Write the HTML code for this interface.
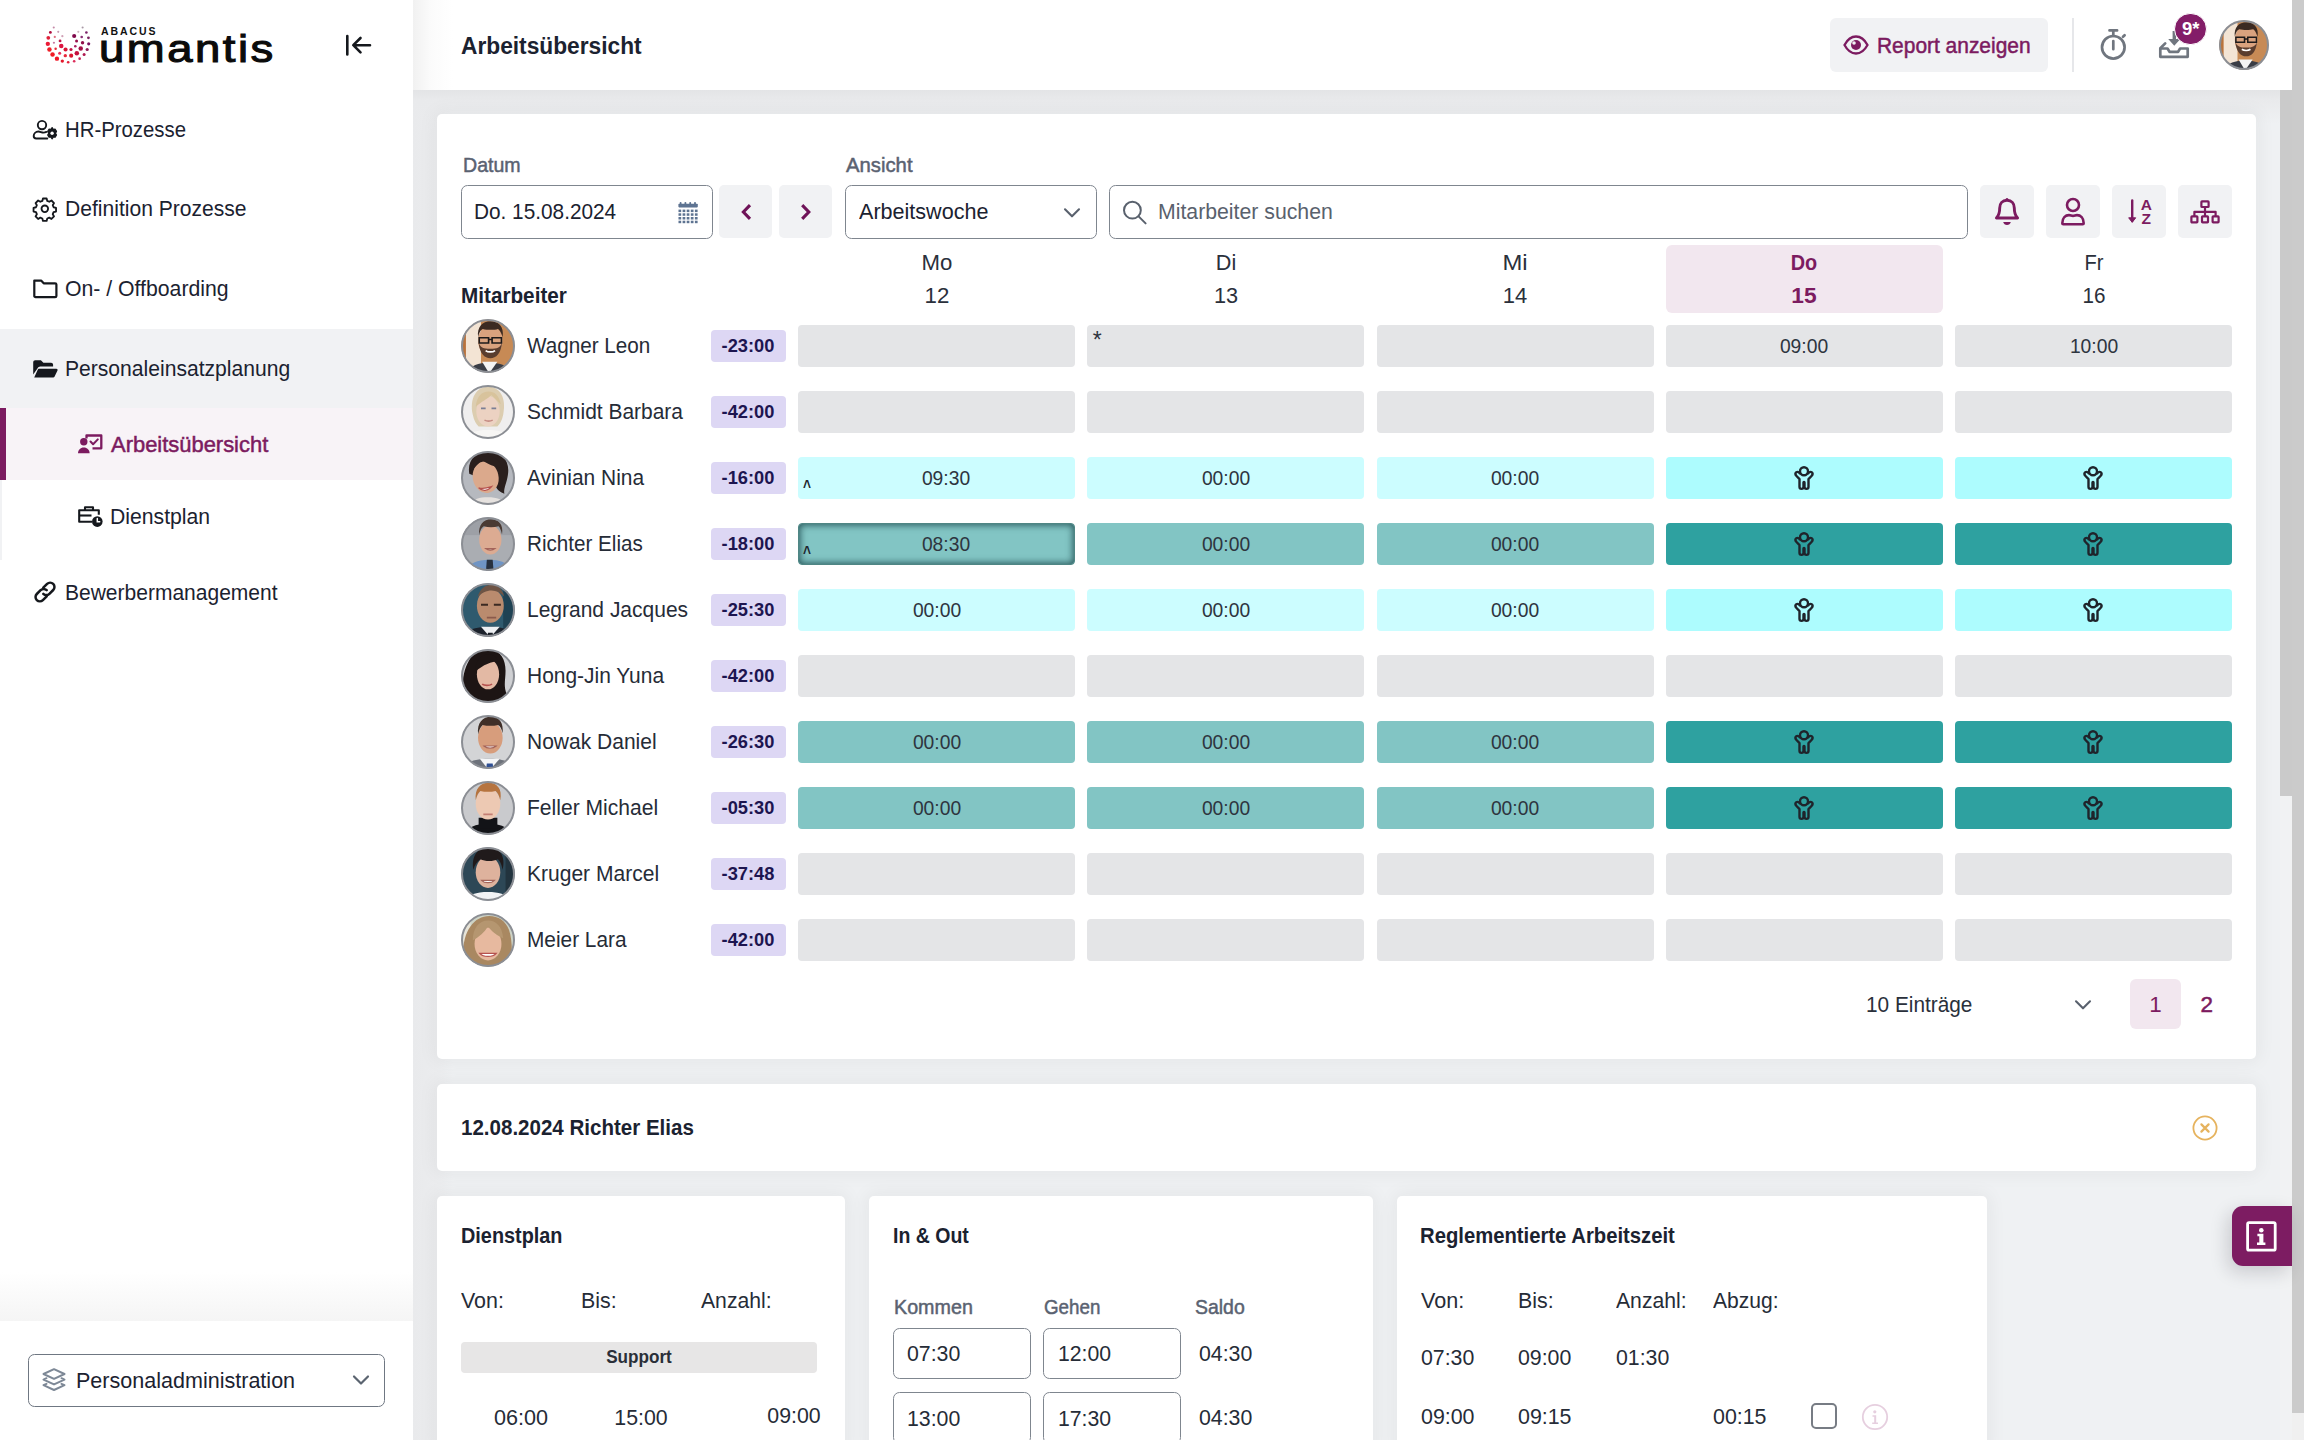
<!DOCTYPE html>
<html lang="de"><head><meta charset="utf-8"><title>Arbeitsübersicht</title>
<style>
html,body{margin:0;padding:0}
body{width:2304px;height:1440px;overflow:hidden;position:relative;background:#eff1f3;
 font-family:"Liberation Sans",sans-serif;color:#1b2230;font-size:20.8px}
.b{position:absolute;box-sizing:border-box;display:block}
.t{position:absolute;white-space:nowrap;box-sizing:border-box}
.card{background:#fff;border-radius:5px}
.inp{background:#fff;border:2px solid #7b828c;border-radius:6.500px}
.gbtn{background:#f1f2f4;border-radius:6px}
</style></head><body>

<div class="b" style="left:413px;top:0;width:1879px;height:90px;background:#fff"></div>
<div class="b" style="left:413px;top:0;width:40px;height:90px;background:linear-gradient(90deg,#f1f1f1,#fbfbfb 45%,#fff)"></div>
<div class="b" style="left:413px;top:90px;width:40px;height:1350px;background:linear-gradient(90deg,#e9eaec,#ebecee 60%,rgba(236,237,239,0))"></div>
<div class="b" style="left:413px;top:90px;width:1879px;height:34px;background:linear-gradient(180deg,#e3e4e6,#e9eaec 30%,rgba(236,237,239,0))"></div>
<div class="t" style="top:25.77px;height:40px;line-height:40px;font-size:23.5px;color:#1b2230;font-weight:700;transform:scaleX(0.9676);transform-origin:left center;left:461px;">Arbeitsübersicht</div>
<div class="b" style="left:1830px;top:18px;width:218px;height:54px;background:#f1f2f4;border-radius:6px;"></div>
<svg class="b" style="left:1843px;top:33px;" width="26" height="24" viewBox="0 0 26 24"><path d="M1.5 12 C5 5.5 9 3.5 13 3.5 S21 5.5 24.5 12 C21 18.5 17 20.5 13 20.5 S5 18.5 1.5 12Z" fill="none" stroke="#7c1b60" stroke-width="2.3"/><circle cx="13" cy="12" r="5" fill="#7c1b60"/><circle cx="11" cy="10" r="1.8" fill="#f1f2f4"/></svg>
<div class="t" style="top:25.76px;height:40px;line-height:40px;font-size:22.4px;color:#7c1b60;-webkit-text-stroke:0.5px #7c1b60;transform:scaleX(0.9346);transform-origin:left center;left:1877.3px;">Report anzeigen</div>
<div class="b" style="left:2072px;top:18px;width:2px;height:54px;background:#e6e7ea;"></div>
<svg class="b" style="left:2098px;top:26px;" width="30" height="36" viewBox="0 0 30 36"><g fill="none" stroke="#70767f" stroke-width="2.7" stroke-linecap="round"><circle cx="15.3" cy="21.3" r="11.3"/><path d="M11.5 4.4h7.6M15.3 4.4v5.5M15.3 15v8.2M25 10.8l1.6-1.6"/></g></svg>
<svg class="b" style="left:2157px;top:28px;" width="36" height="32" viewBox="0 0 36 32"><g fill="none" stroke="#70767f" stroke-width="2.7" stroke-linejoin="round" stroke-linecap="round"><path d="M3.3 20.5h7.2l2 3.3h8.6l2-3.3h7.6v8.3H3.3z"/><path d="M3.6 20l4.6-4.6"/></g><path d="M15.6 3v8h-4.4l6.1 6.8 6.1-6.8h-4.4V3z" fill="#70767f"/></svg>
<div class="b" style="left:2174.4px;top:12.9px;width:32.4px;height:32.4px;border-radius:50%;background:#831d68;border:1px solid #fff"></div>
<div class="t" style="top:9.21px;height:40px;line-height:40px;font-size:18.5px;color:#fff;font-weight:700;left:2160.80px;width:60px;text-align:center;">9*</div>
<div class="b" style="left:0;top:0;width:413px;height:1440px;background:#fff"></div>
<div class="b" style="left:0px;top:329px;width:413px;height:79px;background:#f1f2f4;"></div>
<div class="b" style="left:0px;top:408px;width:413px;height:72px;background:#f8f3f7;"></div>
<div class="b" style="left:0px;top:408px;width:6px;height:72px;background:#7c1b60;"></div>
<div class="b" style="left:0px;top:480px;width:2px;height:80px;background:#f1f2f4;"></div>
<svg class="b" style="left:0px;top:0px;" width="140" height="90" viewBox="0 0 140 90"><circle cx="53.75" cy="27.56" r="1.05" fill="#c58aa8"/><circle cx="50.37" cy="32.44" r="1.42" fill="#b0103f"/><circle cx="48.31" cy="37.87" r="1.87" fill="#e0203a"/><circle cx="47.82" cy="43.87" r="2.17" fill="#ea1a36"/><circle cx="49.44" cy="49.50" r="2.25" fill="#ee2028"/><circle cx="52.55" cy="54.56" r="2.25" fill="#f01a24"/><circle cx="56.94" cy="58.68" r="2.17" fill="#f01525"/><circle cx="62.30" cy="61.12" r="1.69" fill="#e31a2c"/><circle cx="68.18" cy="62.24" r="1.31" fill="#e3203a"/><circle cx="74.18" cy="61.31" r="1.31" fill="#dc2d5a"/><circle cx="79.62" cy="58.68" r="1.31" fill="#c41f55"/><circle cx="84.12" cy="54.56" r="1.50" fill="#b01a50"/><circle cx="87.19" cy="49.50" r="1.57" fill="#8a1a55"/><circle cx="88.69" cy="43.87" r="1.57" fill="#7a1560"/><circle cx="88.43" cy="37.87" r="1.42" fill="#7a2560"/><circle cx="86.37" cy="32.44" r="1.31" fill="#7a2068"/><circle cx="82.62" cy="27.56" r="1.05" fill="#a898a5"/><circle cx="58.25" cy="31.87" r="1.05" fill="#c59ab0"/><circle cx="54.80" cy="36.94" r="1.12" fill="#e07080"/><circle cx="53.94" cy="42.75" r="1.12" fill="#c878a0"/><circle cx="55.62" cy="48.75" r="1.24" fill="#e52a3a"/><circle cx="59.67" cy="53.25" r="1.50" fill="#e8305a"/><circle cx="65.30" cy="55.68" r="1.69" fill="#e8283a"/><circle cx="71.18" cy="55.68" r="2.06" fill="#d81530"/><circle cx="76.81" cy="53.25" r="2.25" fill="#c4103f"/><circle cx="80.74" cy="48.56" r="2.25" fill="#a51045"/><circle cx="82.54" cy="42.75" r="1.69" fill="#900f48"/><circle cx="81.68" cy="36.94" r="1.31" fill="#8a3075"/><circle cx="78.31" cy="31.87" r="1.05" fill="#cdb5bd"/><circle cx="62.37" cy="36.19" r="1.12" fill="#d0a0b5"/><circle cx="60.05" cy="40.95" r="1.42" fill="#c01848"/><circle cx="61.25" cy="46.12" r="2.25" fill="#dc1540"/><circle cx="65.56" cy="49.50" r="2.06" fill="#d81535"/><circle cx="71.00" cy="49.50" r="1.57" fill="#c01545"/><circle cx="75.31" cy="46.31" r="1.31" fill="#a82060"/><circle cx="76.55" cy="40.95" r="1.50" fill="#98104a"/><circle cx="74.18" cy="36.00" r="2.06" fill="#80084a"/></svg>
<div class="t" style="top:11.42px;height:40px;line-height:40px;font-size:10.5px;color:#111;font-weight:700;left:101px;letter-spacing:1.9px;">ABACUS</div>
<div class="t" style="left:99.2px;top:20.2px;height:56px;line-height:56px;font-size:39.5px;color:#0b0b0b;letter-spacing:2.2px;transform:scaleX(1.15);transform-origin:left center;-webkit-text-stroke:1.1px #0b0b0b">umantis</div>
<svg class="b" style="left:343px;top:33px;" width="30" height="24" viewBox="0 0 30 24"><g fill="none" stroke="#15181d" stroke-width="2.6" stroke-linecap="round" stroke-linejoin="round"><path d="M4.3 3v18.5M27 12.2H10.5M17.5 5l-7.2 7.2 7.2 7.2"/></g></svg>
<svg class="b" style="left:31px;top:117px;" width="28" height="25" viewBox="0 0 28 25"><g fill="none" stroke="#15181d" stroke-width="1.9" stroke-linecap="round"><circle cx="11" cy="8.1" r="4.2"/><path d="M16.3 21.5H5.2c-1.6 0-2.5-1-2.5-2.4 0-2.6 2.2-4.6 4.6-4.6 2.2 0 3 1.1 5.2 1.1 1.4 0 2.1-.3 2.9-.7"/></g><path d="M21.1 10.6l1.1 1.7 2-.1 1.3 2.2-1 1.8 1 1.8-1.3 2.2-2-.1-1.1 1.7-1.1-1.7-2 .1-1.3-2.2 1-1.8-1-1.8 1.300-2.2 2 .1z" fill="#15181d" stroke="#15181d" stroke-width="1.2" stroke-linejoin="round"/><circle cx="21.1" cy="16.2" r="1.7" fill="#fff"/></svg>
<div class="t" style="top:110.26px;height:40px;line-height:40px;font-size:22.4px;color:#1b2230;transform:scaleX(0.9090);transform-origin:left center;left:65px;">HR-Prozesse</div>
<svg class="b" style="left:32.2px;top:196.4px;" width="25.6" height="25.6" viewBox="-14 -14 28 28"><g fill="none" stroke="#15181d" stroke-width="2"><circle r="3.6"/><path d="M-2 -11.3h4l.7 2.7 2.2 .9 2.4-1.400 2.800 2.800-1.400 2.400.9 2.200 2.700.7v4l-2.700.7-.9 2.200 1.400 2.400-2.800 2.800-2.400-1.400-2.200.9-.7 2.700h-4l-.7-2.700-2.200-.9-2.400 1.400-2.800-2.800 1.400-2.400-.9-2.200-2.700-.7v-4l2.700-.7.9-2.200-1.400-2.400 2.800-2.800 2.400 1.400 2.200-.9z" stroke-linejoin="round"/></g></svg>
<div class="t" style="top:189.26px;height:40px;line-height:40px;font-size:22.4px;color:#1b2230;transform:scaleX(0.9413);transform-origin:left center;left:65px;">Definition Prozesse</div>
<svg class="b" style="left:31px;top:276px;" width="28" height="24" viewBox="0 0 28 24"><path d="M3.3 4.600h6.800l2.600 2.700h11.400a1.300 1.300 0 0 1 1.300 1.300v11.300a1.300 1.300 0 0 1-1.300 1.300H4.600a1.300 1.300 0 0 1-1.300-1.300z" fill="none" stroke="#15181d" stroke-width="2.2" stroke-linejoin="round"/></svg>
<div class="t" style="top:268.76px;height:40px;line-height:40px;font-size:22.4px;color:#1b2230;transform:scaleX(0.9478);transform-origin:left center;left:65.4px;">On- / Offboarding</div>
<svg class="b" style="left:31px;top:358px;" width="28" height="22" viewBox="0 0 28 22"><path d="M2.200 16.500V4.300c0-1.100.9-2 2-2h5.700l2.500 2.500h7.700c1.100 0 2 .9 2 2v1.700H9.300c-1.200 0-2.200.7-2.700 1.800z" fill="#15181d"/><path d="M8.100 10.800h17.300c.9 0 1.500.9 1.100 1.700l-2.900 6c-.3.700-1 1.100-1.800 1.100H3.200l3.400-7.600c.3-.7.900-1.200 1.500-1.200z" fill="#15181d"/></svg>
<div class="t" style="top:348.76px;height:40px;line-height:40px;font-size:22.4px;color:#1b2230;transform:scaleX(0.9421);transform-origin:left center;left:65px;">Personaleinsatzplanung</div>
<svg class="b" style="left:76px;top:432px;" width="28" height="24" viewBox="0 0 28 24"><circle cx="7.8" cy="9.700" r="3.700" fill="#7c1b60"/><path d="M2 21.300c0-3.300 2.400-5.800 5.800-5.800s5.800 2.500 5.800 5.800z" fill="#7c1b60"/><path d="M10.500 6.500V3.500h14.800v12.800h-8.800" fill="none" stroke="#7c1b60" stroke-width="2.300" stroke-linejoin="round"/><path d="M14.500 9.500l2.600 2.700 4.700-4.800" fill="none" stroke="#7c1b60" stroke-width="2" stroke-linecap="round" stroke-linejoin="round"/></svg>
<div class="t" style="top:424.76px;height:40px;line-height:40px;font-size:22.4px;color:#7c1b60;-webkit-text-stroke:0.5px #7c1b60;transform:scaleX(0.9794);transform-origin:left center;left:111.4px;">Arbeitsübersicht</div>
<svg class="b" style="left:76px;top:504px;" width="28" height="24" viewBox="0 0 28 24"><g fill="none" stroke="#15181d" stroke-width="2.100" stroke-linejoin="round"><path d="M16 17.800H3.200V6.200h19.600v4.600"/><path d="M9 6V3.200h8V6"/><path d="M3.200 11.500h12.300"/></g><circle cx="21.300" cy="17.600" r="5.300" fill="#15181d"/><path d="M21.300 14.600v3.200h2.400" fill="none" stroke="#fff" stroke-width="1.500" stroke-linecap="round"/></svg>
<div class="t" style="top:496.76px;height:40px;line-height:40px;font-size:22.4px;color:#1b2230;transform:scaleX(0.9459);transform-origin:left center;left:110.2px;">Dienstplan</div>
<svg class="b" style="left:31px;top:578px;" width="28" height="28" viewBox="0 0 28 28"><g fill="none" stroke="#15181d" stroke-width="2.500" stroke-linecap="round"><path d="M12.300 9.700l3.800-3.800a4.300 4.300 0 0 1 6.100 6.100l-3.800 3.800a4.300 4.300 0 0 1-6.100 0"/><path d="M15.700 18.300l-3.800 3.800a4.300 4.300 0 0 1-6.100-6.100l3.800-3.800a4.300 4.300 0 0 1 6.100 0"/></g></svg>
<div class="t" style="top:572.76px;height:40px;line-height:40px;font-size:22.4px;color:#1b2230;transform:scaleX(0.9384);transform-origin:left center;left:65px;">Bewerbermanagement</div>
<div class="b" style="left:0;top:1272px;width:413px;height:49px;background:linear-gradient(180deg,rgba(255,255,255,0),#f5f5f5)"></div>
<div class="b" style="left:0;top:1321px;width:413px;height:119px;background:#fff"></div>
<div class="b inp" style="left:28px;top:1354px;width:357px;height:53px;border-width:1.600px;border-color:#6f7782"></div>
<svg class="b" style="left:40px;top:1366px;" width="28" height="28" viewBox="0 0 28 28"><g fill="none" stroke="#7d8896" stroke-width="2" stroke-linejoin="round" stroke-linecap="round"><path d="M14 3.200l10.500 4.800L14 12.800 3.500 8z"/><path d="M6.500 12.200L3.500 13.600 14 18.400l10.500-4.800-3-1.400"/><path d="M6.500 17.800l-3 1.400L14 24l10.500-4.800-3-1.400"/></g></svg>
<div class="t" style="top:1360.76px;height:40px;line-height:40px;font-size:22.4px;color:#1b2230;transform:scaleX(0.9620);transform-origin:left center;left:76px;">Personaladministration</div>
<svg class="b" style="left:351px;top:1373px;" width="20" height="14" viewBox="0 0 20 14"><path d="M3 3.500l7 7 7-7" fill="none" stroke="#5b6470" stroke-width="2.200" stroke-linecap="round" stroke-linejoin="round"/></svg>
<div class="b card" style="left:437px;top:114px;width:1819px;height:945px;box-shadow:0 0 18px 3px rgba(40,42,48,.05);"></div>
<div class="t" style="top:145.44px;height:40px;line-height:40px;font-size:21px;color:#5a6271;-webkit-text-stroke:0.5px #5a6271;transform:scaleX(0.9322);transform-origin:left center;left:462.5px;">Datum</div>
<div class="t" style="top:145.44px;height:40px;line-height:40px;font-size:21px;color:#5a6271;-webkit-text-stroke:0.5px #5a6271;transform:scaleX(0.9658);transform-origin:left center;left:845.5px;">Ansicht</div>
<div class="b inp" style="left:461px;top:184.700px;width:252px;height:53.900px;border:1.7px solid #7f868f;"></div>
<div class="t" style="top:192.26px;height:40px;line-height:40px;font-size:22.4px;color:#1b2230;transform:scaleX(0.9283);transform-origin:left center;left:474.2px;">Do. 15.08.2024</div>
<svg class="b" style="left:677.5px;top:201.5px;" width="20.5" height="22.5" viewBox="0 0 20.5 22.5"><rect x="0.4" y="1.8" width="19.400" height="3.600" rx="0.8" fill="#5d7391"/><rect x="1.7000000000000002" y="0" width="1.800" height="3" rx=".8" fill="#5d7391"/><rect x="6.5" y="0" width="1.800" height="3" rx=".8" fill="#5d7391"/><rect x="11.299999999999999" y="0" width="1.800" height="3" rx=".8" fill="#5d7391"/><rect x="16.1" y="0" width="1.800" height="3" rx=".8" fill="#5d7391"/><rect x="0.50" y="7.60" width="2.700" height="2.500" fill="#5d7391"/><rect x="4.60" y="7.60" width="2.700" height="2.500" fill="#5d7391"/><rect x="8.70" y="7.60" width="2.700" height="2.500" fill="#5d7391"/><rect x="12.80" y="7.60" width="2.700" height="2.500" fill="#5d7391"/><rect x="16.90" y="7.60" width="2.700" height="2.500" fill="#5d7391"/><rect x="0.50" y="11.30" width="2.700" height="2.500" fill="#5d7391"/><rect x="4.60" y="11.30" width="2.700" height="2.500" fill="#5d7391"/><rect x="8.70" y="11.30" width="2.700" height="2.500" fill="#5d7391"/><rect x="12.80" y="11.30" width="2.700" height="2.500" fill="#5d7391"/><rect x="16.90" y="11.30" width="2.700" height="2.500" fill="#5d7391"/><rect x="0.50" y="15.00" width="2.700" height="2.500" fill="#5d7391"/><rect x="4.60" y="15.00" width="2.700" height="2.500" fill="#5d7391"/><rect x="8.70" y="15.00" width="2.700" height="2.500" fill="#5d7391"/><rect x="12.80" y="15.00" width="2.700" height="2.500" fill="#5d7391"/><rect x="16.90" y="15.00" width="2.700" height="2.500" fill="#5d7391"/><rect x="0.50" y="18.70" width="2.700" height="2.500" fill="#5d7391"/><rect x="4.60" y="18.70" width="2.700" height="2.500" fill="#5d7391"/><rect x="8.70" y="18.70" width="2.700" height="2.500" fill="#5d7391"/><rect x="12.80" y="18.70" width="2.700" height="2.500" fill="#5d7391"/><rect x="16.90" y="18.70" width="2.700" height="2.500" fill="#5d7391"/></svg>
<div class="b" style="left:719px;top:185.2px;width:53px;height:53.2px;background:#f1f2f4;border-radius:5px;"></div>
<div class="b" style="left:779px;top:185.2px;width:53px;height:53.2px;background:#f1f2f4;border-radius:5px;"></div>
<svg class="b" style="left:736.7px;top:199px;" width="20" height="26" viewBox="0 0 20 26"><path d="M13 6.200L6.400 13l6.600 6.800" fill="none" stroke="#6f1358" stroke-width="3.100" stroke-linecap="butt" stroke-linejoin="miter"/></svg>
<svg class="b" style="left:795px;top:199px;" width="20" height="26" viewBox="0 0 20 26"><path d="M7.200 6.200l6.600 6.800-6.600 6.800" fill="none" stroke="#6f1358" stroke-width="3.100" stroke-linecap="butt" stroke-linejoin="miter"/></svg>
<div class="b inp" style="left:845px;top:184.700px;width:252px;height:53.900px;border:1.7px solid #7f868f;"></div>
<div class="t" style="top:192.26px;height:40px;line-height:40px;font-size:22.4px;color:#1b2230;transform:scaleX(0.9628);transform-origin:left center;left:858.8px;">Arbeitswoche</div>
<svg class="b" style="left:1061.5px;top:205.8px;" width="20" height="14" viewBox="0 0 20 14"><path d="M3 3.300l7 7 7-7" fill="none" stroke="#59616d" stroke-width="2.100" stroke-linecap="round" stroke-linejoin="round"/></svg>
<div class="b inp" style="left:1109px;top:184.700px;width:859px;height:53.900px;border:1.7px solid #7f868f;"></div>
<svg class="b" style="left:1121px;top:199px;" width="28" height="26" viewBox="0 0 28 26"><g fill="none" stroke="#59616d" stroke-width="2" stroke-linecap="round"><circle cx="11.400" cy="11.200" r="8.400"/><path d="M17.600 17.400l7 7"/></g></svg>
<div class="t" style="top:192.26px;height:40px;line-height:40px;font-size:22.4px;color:#59616d;transform:scaleX(0.9490);transform-origin:left center;left:1157.8px;">Mitarbeiter suchen</div>
<div class="b" style="left:1980px;top:185.2px;width:54px;height:53.2px;background:#f1f2f4;border-radius:5px;"></div>
<div class="b" style="left:2046px;top:185.2px;width:54px;height:53.2px;background:#f1f2f4;border-radius:5px;"></div>
<div class="b" style="left:2112px;top:185.2px;width:54px;height:53.2px;background:#f1f2f4;border-radius:5px;"></div>
<div class="b" style="left:2178px;top:185.2px;width:54px;height:53.2px;background:#f1f2f4;border-radius:5px;"></div>
<svg class="b" style="left:1993px;top:196px;" width="28" height="33" viewBox="0 0 28 33"><g fill="none" stroke="#7c1b60" stroke-width="2.900" stroke-linejoin="round" stroke-linecap="round"><path d="M14 4.300c-4.600 0-7.300 3.300-7.300 7.600 0 5.700-1.500 8.300-3.300 10.100h21.200c-1.800-1.800-3.300-4.400-3.300-10.100 0-4.300-2.700-7.600-7.300-7.600z"/></g><circle cx="14" cy="3.600" r="1.500" fill="#7c1b60"/><path d="M10.200 26h7.600c-.5 1.800-1.900 3-3.800 3s-3.300-1.200-3.800-3z" fill="#7c1b60"/></svg>
<svg class="b" style="left:2059px;top:195px;" width="28" height="33" viewBox="0 0 28 33"><g fill="none" stroke="#7c1b60" stroke-width="2.600" stroke-linejoin="round"><circle cx="14" cy="10" r="6"/><path d="M3.300 28.300c0-5.500 3.300-8.200 6.700-8.200 1.700 0 2.300.8 4 .8s2.300-.8 4-.8c3.400 0 6.700 2.700 6.700 8.200 0 .6-.5 1-1 1H4.300c-.6 0-1-.4-1-1z"/></g></svg>
<svg class="b" style="left:2124px;top:196px;" width="32" height="32" viewBox="0 0 32 32"><path d="M8.200 4.500v20" fill="none" stroke="#7c1b60" stroke-width="2.400" stroke-linecap="round"/><path d="M4.700 21.800l3.500 4.600 3.500-4.600z" fill="#7c1b60" stroke="#7c1b60" stroke-width="1" stroke-linejoin="round"/></svg>
<div class="t" style="top:185.48px;height:40px;line-height:40px;font-size:15.5px;color:#7c1b60;font-weight:700;left:2131.30px;width:30px;text-align:center;">A</div>
<div class="t" style="top:199.18px;height:40px;line-height:40px;font-size:15.5px;color:#7c1b60;font-weight:700;left:2131.30px;width:30px;text-align:center;">Z</div>
<svg class="b" style="left:2189px;top:198px;" width="32" height="28" viewBox="0 0 32 28"><g fill="none" stroke="#7c1b60" stroke-width="2.200" stroke-linejoin="round"><rect x="12.400" y="3.400" width="7.200" height="5.600" rx=".6"/><rect x="2.400" y="18.400" width="6" height="6" rx=".6"/><rect x="13" y="18.400" width="6" height="6" rx=".6"/><rect x="23.600" y="18.400" width="6" height="6" rx=".6"/><path d="M16 9v9.400M5.400 18.400v-4.600h21.200v4.600"/></g></svg>
<div class="b" style="left:1665.9px;top:244.8px;width:277px;height:68.4px;background:#f2e7ef;border-radius:6px;"></div>
<div class="t" style="top:242.66px;height:40px;line-height:40px;font-size:22.4px;color:#2a303b;transform:scaleX(0.9922);transform-origin:center center;left:736.65px;width:400px;text-align:center;">Mo</div>
<div class="t" style="top:276.46px;height:40px;line-height:40px;font-size:22.4px;color:#2a303b;transform:scaleX(0.9946);transform-origin:center center;left:736.65px;width:400px;text-align:center;">12</div>
<div class="t" style="top:242.66px;height:40px;line-height:40px;font-size:22.4px;color:#2a303b;transform:scaleX(0.9653);transform-origin:center center;left:1025.90px;width:400px;text-align:center;">Di</div>
<div class="t" style="top:276.46px;height:40px;line-height:40px;font-size:22.4px;color:#2a303b;transform:scaleX(0.9687);transform-origin:center center;left:1025.90px;width:400px;text-align:center;">13</div>
<div class="t" style="top:242.66px;height:40px;line-height:40px;font-size:22.4px;color:#2a303b;transform:scaleX(1.0655);transform-origin:center center;left:1315.15px;width:400px;text-align:center;">Mi</div>
<div class="t" style="top:276.46px;height:40px;line-height:40px;font-size:22.4px;color:#2a303b;transform:scaleX(0.9816);transform-origin:center center;left:1315.15px;width:400px;text-align:center;">14</div>
<div class="t" style="top:242.66px;height:40px;line-height:40px;font-size:22.4px;color:#7c1b60;font-weight:700;transform:scaleX(0.8872);transform-origin:center center;left:1604.40px;width:400px;text-align:center;">Do</div>
<div class="t" style="top:276.46px;height:40px;line-height:40px;font-size:22.4px;color:#7c1b60;font-weight:700;transform:scaleX(1.0161);transform-origin:center center;left:1604.40px;width:400px;text-align:center;">15</div>
<div class="t" style="top:242.66px;height:40px;line-height:40px;font-size:22.4px;color:#2a303b;transform:scaleX(0.8993);transform-origin:center center;left:1893.65px;width:400px;text-align:center;">Fr</div>
<div class="t" style="top:276.46px;height:40px;line-height:40px;font-size:22.4px;color:#2a303b;transform:scaleX(0.9214);transform-origin:center center;left:1893.65px;width:400px;text-align:center;">16</div>
<div class="t" style="top:276.46px;height:40px;line-height:40px;font-size:22.4px;color:#1b2230;font-weight:700;transform:scaleX(0.9247);transform-origin:left center;left:461px;">Mitarbeiter</div>
<svg class="b" style="left:460.6px;top:319.29999999999995px" width="54" height="54" viewBox="0 0 54 54"><defs><clipPath id="av1"><circle cx="27" cy="27" r="26.500"/></clipPath></defs><g clip-path="url(#av1)"><g transform="translate(27 31) scale(1.17) translate(-27 -31)"><rect width="54" height="54" fill="#c78a55"/><rect x="8" y="0" width="13" height="54" fill="#f3e4d4"/><rect x="0" y="0" width="8" height="54" fill="#b9733c"/><path d="M8 54c2-9 9-12 20-12s18 3 20 12z" fill="#3a3d45"/><path d="M22 41l6 10 7-10z" fill="#f4f4f4"/><ellipse cx="29" cy="23" rx="10.500" ry="13" fill="#d9a27e"/><path d="M18.500 20c-1-9 4-13.500 10.500-13.500s12 4 10.500 13.500c-1-4-3-6.500-4-7-3 1-9 1-13 0-2 1-3 3-4 7z" fill="#3b2a22"/><path d="M19 25c1 9 5 13 10 13s9-4 10-13c-2 4-4 5-10 5s-8-1-10-5z" fill="#5a3d2e"/><path d="M19.500 20.500h8v4.500h-8zM30.500 20.500h8v4.500h-8zM27.500 22h3" fill="none" stroke="#1d1a1a" stroke-width="1.400"/><path d="M25 31.500c2 1.600 6 1.600 8 0" fill="none" stroke="#fff" stroke-width="1.500"/></g></g><circle cx="27" cy="27" r="26.00" fill="none" stroke="#8b8e94" stroke-width="2.00"/></svg>
<div class="t" style="top:326.26px;height:40px;line-height:40px;font-size:22.4px;color:#262c37;transform:scaleX(0.9232);transform-origin:left center;left:527.2px;">Wagner Leon</div>
<div class="b" style="left:710.6px;top:330.29999999999995px;width:75.2px;height:32px;background:#ddd7f4;border-radius:4px;"></div>
<div class="t" style="top:326.30px;height:40px;line-height:40px;font-size:17.6px;color:#1d1550;font-weight:700;transform:scaleX(1.0376);transform-origin:center center;left:698.40px;width:100px;text-align:center;">-23:00</div>
<div class="b" style="left:798.2px;top:325.4px;width:276.9px;height:41.8px;background:#e4e5e7;border-radius:4px;"></div>
<div class="b" style="left:1087.45px;top:325.4px;width:276.9px;height:41.8px;background:#e4e5e7;border-radius:4px;"></div>
<div class="t" style="top:319.96px;height:40px;line-height:40px;font-size:23px;color:#2e353f;left:1092.75px;">*</div>
<div class="b" style="left:1376.7px;top:325.4px;width:276.9px;height:41.8px;background:#e4e5e7;border-radius:4px;"></div>
<div class="b" style="left:1665.95px;top:325.4px;width:276.9px;height:41.8px;background:#e4e5e7;border-radius:4px;"></div>
<div class="t" style="top:325.83px;height:40px;line-height:40px;font-size:20px;color:#2e353f;transform:scaleX(0.9637);transform-origin:center center;left:1604.40px;width:400px;text-align:center;">09:00</div>
<div class="b" style="left:1955.2px;top:325.4px;width:276.9px;height:41.8px;background:#e4e5e7;border-radius:4px;"></div>
<div class="t" style="top:325.83px;height:40px;line-height:40px;font-size:20px;color:#2e353f;transform:scaleX(0.9637);transform-origin:center center;left:1893.65px;width:400px;text-align:center;">10:00</div>
<svg class="b" style="left:460.6px;top:385.29999999999995px" width="54" height="54" viewBox="0 0 54 54"><defs><clipPath id="av2"><circle cx="27" cy="27" r="26.500"/></clipPath></defs><g clip-path="url(#av2)"><g transform="translate(27 31) scale(1.17) translate(-27 -31)"><rect width="54" height="54" fill="#efeeee"/><path d="M6 54c2-8 9-11 21-11s19 3 21 11z" fill="#f7f6f4"/><path d="M14 30c-3-14 3-24 13-24s16 9 13 24c-1 5-3 8-5 10H19c-2-2-4-5-5-10z" fill="#dccdb0"/><ellipse cx="27" cy="27" rx="10" ry="13" fill="#ecd2c2"/><path d="M16.500 23c1-9 5-13 11-13 5 0 9 3 10.500 11-3-3-6-6-8-8-3 3-9 6-13.500 10z" fill="#d8c39c"/><path d="M21 24.500h4M30 24.500h4" stroke="#7c7f95" stroke-width="1.500"/><path d="M24 34.500c2 1 5 1 7 0" fill="none" stroke="#c58b83" stroke-width="1.300"/></g></g><circle cx="27" cy="27" r="26.00" fill="none" stroke="#8b8e94" stroke-width="2.00"/></svg>
<div class="t" style="top:392.26px;height:40px;line-height:40px;font-size:22.4px;color:#262c37;transform:scaleX(0.9353);transform-origin:left center;left:527.2px;">Schmidt Barbara</div>
<div class="b" style="left:710.6px;top:396.29999999999995px;width:75.2px;height:32px;background:#ddd7f4;border-radius:4px;"></div>
<div class="t" style="top:392.30px;height:40px;line-height:40px;font-size:17.6px;color:#1d1550;font-weight:700;transform:scaleX(1.0376);transform-origin:center center;left:698.40px;width:100px;text-align:center;">-42:00</div>
<div class="b" style="left:798.2px;top:391.4px;width:276.9px;height:41.8px;background:#e4e5e7;border-radius:4px;"></div>
<div class="b" style="left:1087.45px;top:391.4px;width:276.9px;height:41.8px;background:#e4e5e7;border-radius:4px;"></div>
<div class="b" style="left:1376.7px;top:391.4px;width:276.9px;height:41.8px;background:#e4e5e7;border-radius:4px;"></div>
<div class="b" style="left:1665.95px;top:391.4px;width:276.9px;height:41.8px;background:#e4e5e7;border-radius:4px;"></div>
<div class="b" style="left:1955.2px;top:391.4px;width:276.9px;height:41.8px;background:#e4e5e7;border-radius:4px;"></div>
<svg class="b" style="left:460.6px;top:451.29999999999995px" width="54" height="54" viewBox="0 0 54 54"><defs><clipPath id="av3"><circle cx="27" cy="27" r="26.500"/></clipPath></defs><g clip-path="url(#av3)"><g transform="translate(27 31) scale(1.17) translate(-27 -31)"><rect width="54" height="54" fill="#b6b9bf"/><path d="M10 54c3-8 8-10 17-10s15 3 18 10z" fill="#e6e2df"/><path d="M11 24c-2-12 6-19 16-19 12 0 19 8 17 20-1 7-4 12-3 16-4-1-7-4-8-8z" fill="#2a1f1d"/><ellipse cx="25" cy="27" rx="11" ry="13.500" fill="#dba98c" transform="rotate(-12 25 27)"/><path d="M12 22c1-9 8-14 16-13 6 1 10 5 11 10-6-1-13-3-17-7-3 3-6 6-10 10z" fill="#2a1f1d"/><path d="M19 36c3 3 8 3 11-1-3 1-8 2-11 1z" fill="#fff" stroke="#b5524f" stroke-width="1.200"/></g></g><circle cx="27" cy="27" r="26.00" fill="none" stroke="#8b8e94" stroke-width="2.00"/></svg>
<div class="t" style="top:458.26px;height:40px;line-height:40px;font-size:22.4px;color:#262c37;transform:scaleX(0.9342);transform-origin:left center;left:527.2px;">Avinian Nina</div>
<div class="b" style="left:710.6px;top:462.29999999999995px;width:75.2px;height:32px;background:#ddd7f4;border-radius:4px;"></div>
<div class="t" style="top:458.30px;height:40px;line-height:40px;font-size:17.6px;color:#1d1550;font-weight:700;transform:scaleX(1.0376);transform-origin:center center;left:698.40px;width:100px;text-align:center;">-16:00</div>
<div class="b" style="left:798.2px;top:457.4px;width:276.9px;height:41.8px;background:#ccfdff;border-radius:4px;"></div>
<div class="t" style="top:467.12px;height:40px;line-height:40px;font-size:19px;color:#20262e;font-weight:700;left:803.4000000000001px;transform:scaleX(.72);transform-origin:left center;">^</div>
<div class="t" style="top:457.83px;height:40px;line-height:40px;font-size:20px;color:#2e353f;transform:scaleX(0.9637);transform-origin:center center;left:746.25px;width:400px;text-align:center;">09:30</div>
<div class="b" style="left:1087.45px;top:457.4px;width:276.9px;height:41.8px;background:#ccfdff;border-radius:4px;"></div>
<div class="t" style="top:457.83px;height:40px;line-height:40px;font-size:20px;color:#2e353f;transform:scaleX(0.9637);transform-origin:center center;left:1025.90px;width:400px;text-align:center;">00:00</div>
<div class="b" style="left:1376.7px;top:457.4px;width:276.9px;height:41.8px;background:#ccfdff;border-radius:4px;"></div>
<div class="t" style="top:457.83px;height:40px;line-height:40px;font-size:20px;color:#2e353f;transform:scaleX(0.9637);transform-origin:center center;left:1315.15px;width:400px;text-align:center;">00:00</div>
<div class="b" style="left:1665.95px;top:457.4px;width:276.9px;height:41.8px;background:#adfcfe;border-radius:4px;"></div>
<svg class="b" style="left:1794.1000000000001px;top:465.19999999999993px;" width="20" height="26" viewBox="0 0 20 26"><g fill="none" stroke="#1f242b" stroke-width="2.400" stroke-linejoin="round" stroke-linecap="round"><circle cx="10" cy="6.300" r="4"/><path d="M5.700 8.200C4.400 6.400 2.300 6.500 1.600 8c-.5 1.100 0 2.100.9 3l3 3.100v7.700c0 1.300.8 2.100 2 2.100s2-.8 2-2.100v-4.300c0-.4.200-.6.500-.6s.5.200.5.600v4.300c0 1.300.8 2.100 2 2.100s2-.8 2-2.100v-7.700l3-3.100c.9-.9 1.400-1.900.9-3-.7-1.500-2.800-1.600-4.100.2"/></g></svg>
<div class="b" style="left:1955.2px;top:457.4px;width:276.9px;height:41.8px;background:#adfcfe;border-radius:4px;"></div>
<svg class="b" style="left:2083.35px;top:465.19999999999993px;" width="20" height="26" viewBox="0 0 20 26"><g fill="none" stroke="#1f242b" stroke-width="2.400" stroke-linejoin="round" stroke-linecap="round"><circle cx="10" cy="6.300" r="4"/><path d="M5.700 8.200C4.400 6.400 2.300 6.500 1.600 8c-.5 1.100 0 2.100.9 3l3 3.100v7.700c0 1.300.8 2.100 2 2.100s2-.8 2-2.100v-4.300c0-.4.200-.6.500-.6s.5.200.5.600v4.300c0 1.300.8 2.100 2 2.100s2-.8 2-2.100v-7.700l3-3.100c.9-.9 1.400-1.900.9-3-.7-1.500-2.800-1.600-4.100.2"/></g></svg>
<svg class="b" style="left:460.6px;top:517.3px" width="54" height="54" viewBox="0 0 54 54"><defs><clipPath id="av4"><circle cx="27" cy="27" r="26.500"/></clipPath></defs><g clip-path="url(#av4)"><g transform="translate(27 31) scale(1.17) translate(-27 -31)"><rect width="54" height="54" fill="#aaadb2"/><rect y="0" width="54" height="20" fill="#9da0a6"/><path d="M7 54c2-9 9-13 21-13s18 4 20 13z" fill="#6f94c4"/><path d="M26 41h5l1 13h-7z" fill="#27303e"/><ellipse cx="29" cy="24" rx="9.500" ry="12.500" fill="#dcab92"/><path d="M19.500 20c-1-9 4-13.500 10-13.500s11 4 9.500 13c-1-4-2-6-3-7-4 1-9 1-12.500 0-2 1-3 3-4 7.500z" fill="#4a3a33"/><path d="M25 31.500c2 1.700 6 1.700 8 0z" fill="#fff" stroke="#a4645a" stroke-width="1"/></g></g><circle cx="27" cy="27" r="26.00" fill="none" stroke="#8b8e94" stroke-width="2.00"/></svg>
<div class="t" style="top:524.26px;height:40px;line-height:40px;font-size:22.4px;color:#262c37;transform:scaleX(0.9217);transform-origin:left center;left:527.2px;">Richter Elias</div>
<div class="b" style="left:710.6px;top:528.3px;width:75.2px;height:32px;background:#ddd7f4;border-radius:4px;"></div>
<div class="t" style="top:524.30px;height:40px;line-height:40px;font-size:17.6px;color:#1d1550;font-weight:700;transform:scaleX(1.0376);transform-origin:center center;left:698.40px;width:100px;text-align:center;">-18:00</div>
<div class="b" style="left:798.2px;top:523.4px;width:276.9px;height:41.8px;background:#82c5c4;border-radius:4px;box-shadow:inset 0 0 7px 1px rgba(10,50,55,.75);border:1px solid #4f8684;"></div>
<div class="t" style="top:533.12px;height:40px;line-height:40px;font-size:19px;color:#20262e;font-weight:700;left:803.4000000000001px;transform:scaleX(.72);transform-origin:left center;">^</div>
<div class="t" style="top:523.83px;height:40px;line-height:40px;font-size:20px;color:#2e353f;transform:scaleX(0.9637);transform-origin:center center;left:746.25px;width:400px;text-align:center;">08:30</div>
<div class="b" style="left:1087.45px;top:523.4px;width:276.9px;height:41.8px;background:#82c5c4;border-radius:4px;"></div>
<div class="t" style="top:523.83px;height:40px;line-height:40px;font-size:20px;color:#2e353f;transform:scaleX(0.9637);transform-origin:center center;left:1025.90px;width:400px;text-align:center;">00:00</div>
<div class="b" style="left:1376.7px;top:523.4px;width:276.9px;height:41.8px;background:#82c5c4;border-radius:4px;"></div>
<div class="t" style="top:523.83px;height:40px;line-height:40px;font-size:20px;color:#2e353f;transform:scaleX(0.9637);transform-origin:center center;left:1315.15px;width:400px;text-align:center;">00:00</div>
<div class="b" style="left:1665.95px;top:523.4px;width:276.9px;height:41.8px;background:#2ea1a0;border-radius:4px;"></div>
<svg class="b" style="left:1794.1000000000001px;top:531.1999999999999px;" width="20" height="26" viewBox="0 0 20 26"><g fill="none" stroke="#1f242b" stroke-width="2.400" stroke-linejoin="round" stroke-linecap="round"><circle cx="10" cy="6.300" r="4"/><path d="M5.700 8.200C4.400 6.400 2.300 6.500 1.600 8c-.5 1.100 0 2.100.9 3l3 3.100v7.700c0 1.300.8 2.100 2 2.100s2-.8 2-2.100v-4.300c0-.4.200-.6.500-.6s.5.200.5.600v4.300c0 1.300.8 2.100 2 2.100s2-.8 2-2.100v-7.700l3-3.100c.9-.9 1.400-1.900.9-3-.7-1.500-2.800-1.600-4.100.2"/></g></svg>
<div class="b" style="left:1955.2px;top:523.4px;width:276.9px;height:41.8px;background:#2ea1a0;border-radius:4px;"></div>
<svg class="b" style="left:2083.35px;top:531.1999999999999px;" width="20" height="26" viewBox="0 0 20 26"><g fill="none" stroke="#1f242b" stroke-width="2.400" stroke-linejoin="round" stroke-linecap="round"><circle cx="10" cy="6.300" r="4"/><path d="M5.700 8.200C4.400 6.400 2.300 6.500 1.600 8c-.5 1.100 0 2.100.9 3l3 3.100v7.700c0 1.300.8 2.100 2 2.100s2-.8 2-2.100v-4.300c0-.4.200-.6.500-.6s.5.200.5.600v4.300c0 1.300.8 2.100 2 2.100s2-.8 2-2.100v-7.700l3-3.100c.9-.9 1.400-1.900.9-3-.7-1.500-2.800-1.600-4.100.2"/></g></svg>
<svg class="b" style="left:460.6px;top:583.3px" width="54" height="54" viewBox="0 0 54 54"><defs><clipPath id="av5"><circle cx="27" cy="27" r="26.500"/></clipPath></defs><g clip-path="url(#av5)"><g transform="translate(27 31) scale(1.17) translate(-27 -31)"><rect width="54" height="54" fill="#2f5a6e"/><rect x="40" width="14" height="54" fill="#1f4253"/><path d="M4 54c2-8 9-12 24-12s20 4 22 12z" fill="#1c222c"/><path d="M21 42l8 9 8-9z" fill="#eef0f3"/><path d="M27 47h4l1 7h-6z" fill="#151a22"/><ellipse cx="29" cy="24" rx="11.500" ry="14.500" fill="#ba8b6e"/><path d="M18 17c2-8 7-11 12-11s9 3 11 10c-3-3-7-5-11-5s-9 2-12 6z" fill="#6e5445"/><path d="M21 23h6M32 23h6" stroke="#3b2a22" stroke-width="1.700"/><path d="M26 34h8" stroke="#8a5a4b" stroke-width="1.500"/></g></g><circle cx="27" cy="27" r="26.00" fill="none" stroke="#8b8e94" stroke-width="2.00"/></svg>
<div class="t" style="top:590.26px;height:40px;line-height:40px;font-size:22.4px;color:#262c37;transform:scaleX(0.9376);transform-origin:left center;left:527.2px;">Legrand Jacques</div>
<div class="b" style="left:710.6px;top:594.3px;width:75.2px;height:32px;background:#ddd7f4;border-radius:4px;"></div>
<div class="t" style="top:590.30px;height:40px;line-height:40px;font-size:17.6px;color:#1d1550;font-weight:700;transform:scaleX(1.0376);transform-origin:center center;left:698.40px;width:100px;text-align:center;">-25:30</div>
<div class="b" style="left:798.2px;top:589.4px;width:276.9px;height:41.8px;background:#ccfdff;border-radius:4px;"></div>
<div class="t" style="top:589.83px;height:40px;line-height:40px;font-size:20px;color:#2e353f;transform:scaleX(0.9637);transform-origin:center center;left:736.65px;width:400px;text-align:center;">00:00</div>
<div class="b" style="left:1087.45px;top:589.4px;width:276.9px;height:41.8px;background:#ccfdff;border-radius:4px;"></div>
<div class="t" style="top:589.83px;height:40px;line-height:40px;font-size:20px;color:#2e353f;transform:scaleX(0.9637);transform-origin:center center;left:1025.90px;width:400px;text-align:center;">00:00</div>
<div class="b" style="left:1376.7px;top:589.4px;width:276.9px;height:41.8px;background:#ccfdff;border-radius:4px;"></div>
<div class="t" style="top:589.83px;height:40px;line-height:40px;font-size:20px;color:#2e353f;transform:scaleX(0.9637);transform-origin:center center;left:1315.15px;width:400px;text-align:center;">00:00</div>
<div class="b" style="left:1665.95px;top:589.4px;width:276.9px;height:41.8px;background:#adfcfe;border-radius:4px;"></div>
<svg class="b" style="left:1794.1000000000001px;top:597.1999999999999px;" width="20" height="26" viewBox="0 0 20 26"><g fill="none" stroke="#1f242b" stroke-width="2.400" stroke-linejoin="round" stroke-linecap="round"><circle cx="10" cy="6.300" r="4"/><path d="M5.700 8.200C4.400 6.400 2.300 6.500 1.600 8c-.5 1.100 0 2.100.9 3l3 3.100v7.700c0 1.300.8 2.100 2 2.100s2-.8 2-2.100v-4.300c0-.4.200-.6.500-.6s.5.200.5.600v4.300c0 1.300.8 2.100 2 2.100s2-.8 2-2.100v-7.700l3-3.100c.9-.9 1.400-1.900.9-3-.7-1.500-2.800-1.600-4.100.2"/></g></svg>
<div class="b" style="left:1955.2px;top:589.4px;width:276.9px;height:41.8px;background:#adfcfe;border-radius:4px;"></div>
<svg class="b" style="left:2083.35px;top:597.1999999999999px;" width="20" height="26" viewBox="0 0 20 26"><g fill="none" stroke="#1f242b" stroke-width="2.400" stroke-linejoin="round" stroke-linecap="round"><circle cx="10" cy="6.300" r="4"/><path d="M5.700 8.200C4.400 6.400 2.300 6.500 1.600 8c-.5 1.100 0 2.100.9 3l3 3.100v7.700c0 1.300.8 2.100 2 2.100s2-.8 2-2.100v-4.300c0-.4.200-.6.500-.6s.5.200.5.600v4.300c0 1.300.8 2.100 2 2.100s2-.8 2-2.100v-7.700l3-3.100c.9-.9 1.400-1.900.9-3-.7-1.500-2.800-1.600-4.100.2"/></g></svg>
<svg class="b" style="left:460.6px;top:649.3px" width="54" height="54" viewBox="0 0 54 54"><defs><clipPath id="av6"><circle cx="27" cy="27" r="26.500"/></clipPath></defs><g clip-path="url(#av6)"><g transform="translate(27 31) scale(1.17) translate(-27 -31)"><rect width="54" height="54" fill="#cfd0d3"/><path d="M38 54h16V36z" fill="#4d5a57"/><path d="M6 54c-2-16-1-30 5-40 4-7 11-10 18-9 9 1 13 9 13 18 0 8-2 13 1 20 2 5 3 8 3 11z" fill="#1d1514"/><ellipse cx="27" cy="26" rx="9.500" ry="13" fill="#e3b9a4"/><path d="M16 24c0-9 5-15 12-15 3 0 6 2 8 6-6 0-13 3-20 9z" fill="#1d1514"/><path d="M22 34.500c2 1.500 6 1.500 8.500 0" fill="none" stroke="#b5524f" stroke-width="1.400"/></g></g><circle cx="27" cy="27" r="26.00" fill="none" stroke="#8b8e94" stroke-width="2.00"/></svg>
<div class="t" style="top:656.26px;height:40px;line-height:40px;font-size:22.4px;color:#262c37;transform:scaleX(0.9357);transform-origin:left center;left:527.2px;">Hong-Jin Yuna</div>
<div class="b" style="left:710.6px;top:660.3px;width:75.2px;height:32px;background:#ddd7f4;border-radius:4px;"></div>
<div class="t" style="top:656.30px;height:40px;line-height:40px;font-size:17.6px;color:#1d1550;font-weight:700;transform:scaleX(1.0376);transform-origin:center center;left:698.40px;width:100px;text-align:center;">-42:00</div>
<div class="b" style="left:798.2px;top:655.4px;width:276.9px;height:41.8px;background:#e4e5e7;border-radius:4px;"></div>
<div class="b" style="left:1087.45px;top:655.4px;width:276.9px;height:41.8px;background:#e4e5e7;border-radius:4px;"></div>
<div class="b" style="left:1376.7px;top:655.4px;width:276.9px;height:41.8px;background:#e4e5e7;border-radius:4px;"></div>
<div class="b" style="left:1665.95px;top:655.4px;width:276.9px;height:41.8px;background:#e4e5e7;border-radius:4px;"></div>
<div class="b" style="left:1955.2px;top:655.4px;width:276.9px;height:41.8px;background:#e4e5e7;border-radius:4px;"></div>
<svg class="b" style="left:460.6px;top:715.3px" width="54" height="54" viewBox="0 0 54 54"><defs><clipPath id="av7"><circle cx="27" cy="27" r="26.500"/></clipPath></defs><g clip-path="url(#av7)"><g transform="translate(27 31) scale(1.17) translate(-27 -31)"><rect width="54" height="54" fill="#d3d4d6"/><path d="M5 54c2-9 9-12 23-12s20 3 22 12z" fill="#6d727b"/><path d="M20 42l8 10 9-10z" fill="#f5f6f8"/><path d="M26 46h5l1 8h-7z" fill="#2f4f93"/><ellipse cx="29" cy="24" rx="10.500" ry="13.500" fill="#d79d7c"/><path d="M18.500 21c-1-10 4-15 11-15s11 5 10 14c-1-4-2-6-4-7-4 1-9 1-13 0-2 2-3 4-4 8z" fill="#3f2f28"/><path d="M23.500 31c2.500 2.500 8 2.500 10.500 0z" fill="#fff" stroke="#a4645a" stroke-width="1"/></g></g><circle cx="27" cy="27" r="26.00" fill="none" stroke="#8b8e94" stroke-width="2.00"/></svg>
<div class="t" style="top:722.26px;height:40px;line-height:40px;font-size:22.4px;color:#262c37;transform:scaleX(0.9380);transform-origin:left center;left:527.2px;">Nowak Daniel</div>
<div class="b" style="left:710.6px;top:726.3px;width:75.2px;height:32px;background:#ddd7f4;border-radius:4px;"></div>
<div class="t" style="top:722.30px;height:40px;line-height:40px;font-size:17.6px;color:#1d1550;font-weight:700;transform:scaleX(1.0376);transform-origin:center center;left:698.40px;width:100px;text-align:center;">-26:30</div>
<div class="b" style="left:798.2px;top:721.4px;width:276.9px;height:41.8px;background:#82c5c4;border-radius:4px;"></div>
<div class="t" style="top:721.83px;height:40px;line-height:40px;font-size:20px;color:#2e353f;transform:scaleX(0.9637);transform-origin:center center;left:736.65px;width:400px;text-align:center;">00:00</div>
<div class="b" style="left:1087.45px;top:721.4px;width:276.9px;height:41.8px;background:#82c5c4;border-radius:4px;"></div>
<div class="t" style="top:721.83px;height:40px;line-height:40px;font-size:20px;color:#2e353f;transform:scaleX(0.9637);transform-origin:center center;left:1025.90px;width:400px;text-align:center;">00:00</div>
<div class="b" style="left:1376.7px;top:721.4px;width:276.9px;height:41.8px;background:#82c5c4;border-radius:4px;"></div>
<div class="t" style="top:721.83px;height:40px;line-height:40px;font-size:20px;color:#2e353f;transform:scaleX(0.9637);transform-origin:center center;left:1315.15px;width:400px;text-align:center;">00:00</div>
<div class="b" style="left:1665.95px;top:721.4px;width:276.9px;height:41.8px;background:#2ea1a0;border-radius:4px;"></div>
<svg class="b" style="left:1794.1000000000001px;top:729.1999999999999px;" width="20" height="26" viewBox="0 0 20 26"><g fill="none" stroke="#1f242b" stroke-width="2.400" stroke-linejoin="round" stroke-linecap="round"><circle cx="10" cy="6.300" r="4"/><path d="M5.700 8.200C4.400 6.400 2.300 6.500 1.600 8c-.5 1.100 0 2.100.9 3l3 3.100v7.700c0 1.300.8 2.100 2 2.100s2-.8 2-2.100v-4.300c0-.4.200-.6.500-.6s.5.200.5.600v4.300c0 1.300.8 2.100 2 2.100s2-.8 2-2.100v-7.700l3-3.100c.9-.9 1.400-1.900.9-3-.7-1.500-2.800-1.600-4.100.2"/></g></svg>
<div class="b" style="left:1955.2px;top:721.4px;width:276.9px;height:41.8px;background:#2ea1a0;border-radius:4px;"></div>
<svg class="b" style="left:2083.35px;top:729.1999999999999px;" width="20" height="26" viewBox="0 0 20 26"><g fill="none" stroke="#1f242b" stroke-width="2.400" stroke-linejoin="round" stroke-linecap="round"><circle cx="10" cy="6.300" r="4"/><path d="M5.700 8.200C4.400 6.400 2.300 6.500 1.600 8c-.5 1.100 0 2.100.9 3l3 3.100v7.700c0 1.300.8 2.100 2 2.100s2-.8 2-2.100v-4.300c0-.4.200-.6.500-.6s.5.200.5.600v4.300c0 1.300.8 2.100 2 2.100s2-.8 2-2.100v-7.700l3-3.100c.9-.9 1.400-1.900.9-3-.7-1.500-2.800-1.600-4.100.2"/></g></svg>
<svg class="b" style="left:460.6px;top:781.3px" width="54" height="54" viewBox="0 0 54 54"><defs><clipPath id="av8"><circle cx="27" cy="27" r="26.500"/></clipPath></defs><g clip-path="url(#av8)"><g transform="translate(27 31) scale(1.17) translate(-27 -31)"><rect width="54" height="54" fill="#c9cacd"/><path d="M6 54c2-9 8-13 21-13s19 4 21 13z" fill="#121317"/><path d="M19 36h16v9H19z" fill="#121317"/><ellipse cx="27" cy="24" rx="10.500" ry="13.500" fill="#edc9b3"/><path d="M16.500 21c-1-10 4-15 11-15s12 5 10 15c-1-4-2-6-4-8-4 1-9 1-13 0-2 2-3 4-4 8z" fill="#b6743f"/><path d="M23 33h8" stroke="#c47f74" stroke-width="1.500"/></g></g><circle cx="27" cy="27" r="26.00" fill="none" stroke="#8b8e94" stroke-width="2.00"/></svg>
<div class="t" style="top:788.26px;height:40px;line-height:40px;font-size:22.4px;color:#262c37;transform:scaleX(0.9405);transform-origin:left center;left:527.2px;">Feller Michael</div>
<div class="b" style="left:710.6px;top:792.3px;width:75.2px;height:32px;background:#ddd7f4;border-radius:4px;"></div>
<div class="t" style="top:788.30px;height:40px;line-height:40px;font-size:17.6px;color:#1d1550;font-weight:700;transform:scaleX(1.0376);transform-origin:center center;left:698.40px;width:100px;text-align:center;">-05:30</div>
<div class="b" style="left:798.2px;top:787.4px;width:276.9px;height:41.8px;background:#82c5c4;border-radius:4px;"></div>
<div class="t" style="top:787.83px;height:40px;line-height:40px;font-size:20px;color:#2e353f;transform:scaleX(0.9637);transform-origin:center center;left:736.65px;width:400px;text-align:center;">00:00</div>
<div class="b" style="left:1087.45px;top:787.4px;width:276.9px;height:41.8px;background:#82c5c4;border-radius:4px;"></div>
<div class="t" style="top:787.83px;height:40px;line-height:40px;font-size:20px;color:#2e353f;transform:scaleX(0.9637);transform-origin:center center;left:1025.90px;width:400px;text-align:center;">00:00</div>
<div class="b" style="left:1376.7px;top:787.4px;width:276.9px;height:41.8px;background:#82c5c4;border-radius:4px;"></div>
<div class="t" style="top:787.83px;height:40px;line-height:40px;font-size:20px;color:#2e353f;transform:scaleX(0.9637);transform-origin:center center;left:1315.15px;width:400px;text-align:center;">00:00</div>
<div class="b" style="left:1665.95px;top:787.4px;width:276.9px;height:41.8px;background:#2ea1a0;border-radius:4px;"></div>
<svg class="b" style="left:1794.1000000000001px;top:795.1999999999999px;" width="20" height="26" viewBox="0 0 20 26"><g fill="none" stroke="#1f242b" stroke-width="2.400" stroke-linejoin="round" stroke-linecap="round"><circle cx="10" cy="6.300" r="4"/><path d="M5.700 8.200C4.400 6.400 2.300 6.500 1.600 8c-.5 1.100 0 2.100.9 3l3 3.100v7.700c0 1.300.8 2.100 2 2.100s2-.8 2-2.100v-4.300c0-.4.200-.6.500-.6s.5.200.5.600v4.300c0 1.300.8 2.100 2 2.100s2-.8 2-2.100v-7.700l3-3.100c.9-.9 1.400-1.900.9-3-.7-1.500-2.800-1.600-4.100.2"/></g></svg>
<div class="b" style="left:1955.2px;top:787.4px;width:276.9px;height:41.8px;background:#2ea1a0;border-radius:4px;"></div>
<svg class="b" style="left:2083.35px;top:795.1999999999999px;" width="20" height="26" viewBox="0 0 20 26"><g fill="none" stroke="#1f242b" stroke-width="2.400" stroke-linejoin="round" stroke-linecap="round"><circle cx="10" cy="6.300" r="4"/><path d="M5.700 8.200C4.400 6.400 2.300 6.500 1.600 8c-.5 1.100 0 2.100.9 3l3 3.100v7.700c0 1.300.8 2.100 2 2.100s2-.8 2-2.100v-4.300c0-.4.200-.6.500-.6s.5.200.5.600v4.300c0 1.300.8 2.100 2 2.100s2-.8 2-2.100v-7.700l3-3.100c.9-.9 1.400-1.900.9-3-.7-1.500-2.800-1.600-4.100.2"/></g></svg>
<svg class="b" style="left:460.6px;top:847.3px" width="54" height="54" viewBox="0 0 54 54"><defs><clipPath id="av9"><circle cx="27" cy="27" r="26.500"/></clipPath></defs><g clip-path="url(#av9)"><g transform="translate(27 31) scale(1.17) translate(-27 -31)"><rect width="54" height="54" fill="#2d4756"/><rect x="42" width="12" height="54" fill="#22333e"/><path d="M6 54c2-8 9-11 21-11s19 3 21 11z" fill="#f2f3f5"/><ellipse cx="27" cy="26" rx="10.500" ry="13.500" fill="#deb29d"/><path d="M14.500 24c-2-12 4-19 13-19s15 7 12 19c-1-5-2-7-4-9-4 2-11 2-15 0-3 2-5 5-6 9z" fill="#201a1b"/><path d="M21.500 33c2.500 2.700 8.500 2.700 11 0z" fill="#fff" stroke="#a4645a" stroke-width="1"/></g></g><circle cx="27" cy="27" r="26.00" fill="none" stroke="#8b8e94" stroke-width="2.00"/></svg>
<div class="t" style="top:854.26px;height:40px;line-height:40px;font-size:22.4px;color:#262c37;transform:scaleX(0.9393);transform-origin:left center;left:527.2px;">Kruger Marcel</div>
<div class="b" style="left:710.6px;top:858.3px;width:75.2px;height:32px;background:#ddd7f4;border-radius:4px;"></div>
<div class="t" style="top:854.30px;height:40px;line-height:40px;font-size:17.6px;color:#1d1550;font-weight:700;transform:scaleX(1.0376);transform-origin:center center;left:698.40px;width:100px;text-align:center;">-37:48</div>
<div class="b" style="left:798.2px;top:853.4px;width:276.9px;height:41.8px;background:#e4e5e7;border-radius:4px;"></div>
<div class="b" style="left:1087.45px;top:853.4px;width:276.9px;height:41.8px;background:#e4e5e7;border-radius:4px;"></div>
<div class="b" style="left:1376.7px;top:853.4px;width:276.9px;height:41.8px;background:#e4e5e7;border-radius:4px;"></div>
<div class="b" style="left:1665.95px;top:853.4px;width:276.9px;height:41.8px;background:#e4e5e7;border-radius:4px;"></div>
<div class="b" style="left:1955.2px;top:853.4px;width:276.9px;height:41.8px;background:#e4e5e7;border-radius:4px;"></div>
<svg class="b" style="left:460.6px;top:913.3px" width="54" height="54" viewBox="0 0 54 54"><defs><clipPath id="av10"><circle cx="27" cy="27" r="26.500"/></clipPath></defs><g clip-path="url(#av10)"><g transform="translate(27 31) scale(1.17) translate(-27 -31)"><rect width="54" height="54" fill="#cdd3c6"/><rect width="12" height="54" fill="#e7e4d8"/><path d="M7 54c-3-16-1-30 5-38 4-6 10-9 16-9 8 0 14 4 17 12 3 9 3 22 1 35z" fill="#a98861"/><ellipse cx="27" cy="31" rx="11.500" ry="14" fill="#e7b99f"/><path d="M14 28c0-10 5-17 13-17 7 0 12 5 13 15-5-2-10-6-13-10-3 5-8 9-13 12z" fill="#b59670"/><path d="M20 39c3 3.500 11 3.500 14 0z" fill="#fff" stroke="#b5524f" stroke-width="1.100"/></g></g><circle cx="27" cy="27" r="26.00" fill="none" stroke="#8b8e94" stroke-width="2.00"/></svg>
<div class="t" style="top:920.26px;height:40px;line-height:40px;font-size:22.4px;color:#262c37;transform:scaleX(0.9302);transform-origin:left center;left:527.2px;">Meier Lara</div>
<div class="b" style="left:710.6px;top:924.3px;width:75.2px;height:32px;background:#ddd7f4;border-radius:4px;"></div>
<div class="t" style="top:920.30px;height:40px;line-height:40px;font-size:17.6px;color:#1d1550;font-weight:700;transform:scaleX(1.0376);transform-origin:center center;left:698.40px;width:100px;text-align:center;">-42:00</div>
<div class="b" style="left:798.2px;top:919.4px;width:276.9px;height:41.8px;background:#e4e5e7;border-radius:4px;"></div>
<div class="b" style="left:1087.45px;top:919.4px;width:276.9px;height:41.8px;background:#e4e5e7;border-radius:4px;"></div>
<div class="b" style="left:1376.7px;top:919.4px;width:276.9px;height:41.8px;background:#e4e5e7;border-radius:4px;"></div>
<div class="b" style="left:1665.95px;top:919.4px;width:276.9px;height:41.8px;background:#e4e5e7;border-radius:4px;"></div>
<div class="b" style="left:1955.2px;top:919.4px;width:276.9px;height:41.8px;background:#e4e5e7;border-radius:4px;"></div>
<div class="t" style="top:985.46px;height:40px;line-height:40px;font-size:22.4px;color:#2a303b;transform:scaleX(0.9287);transform-origin:left center;left:1866.2px;">10 Einträge</div>
<svg class="b" style="left:2072.5px;top:998px;" width="20" height="14" viewBox="0 0 20 14"><path d="M3 3.300l7 7 7-7" fill="none" stroke="#59616d" stroke-width="2.100" stroke-linecap="round" stroke-linejoin="round"/></svg>
<div class="b" style="left:2130px;top:979.3px;width:51px;height:50px;background:#f2e7ef;border-radius:6px;"></div>
<div class="t" style="top:985.46px;height:40px;line-height:40px;font-size:22.4px;color:#7c1b60;left:2135.50px;width:40px;text-align:center;">1</div>
<div class="t" style="top:985.46px;height:40px;line-height:40px;font-size:22.4px;color:#7c1b60;-webkit-text-stroke:0.5px #7c1b60;left:2186.70px;width:40px;text-align:center;">2</div>
<div class="b card" style="left:437px;top:1083.5px;width:1819px;height:87.500px;box-shadow:0 0 18px 3px rgba(40,42,48,.05);"></div>
<div class="t" style="top:1108.05px;height:40px;line-height:40px;font-size:22px;color:#1b2230;font-weight:700;transform:scaleX(0.9332);transform-origin:left center;left:461px;">12.08.2024 Richter Elias</div>
<svg class="b" style="left:2191px;top:1113.5px;" width="28" height="28" viewBox="0 0 28 28"><g fill="none" stroke="#e6b35e" stroke-linecap="round"><circle cx="14" cy="14" r="11.600" stroke-width="1.800"/><path d="M10.400 10.400l7.200 7.200M17.600 10.400l-7.200 7.200" stroke-width="2.200"/></g></svg>
<div class="b card" style="left:437px;top:1195.5px;width:408px;height:260px;box-shadow:0 0 18px 3px rgba(40,42,48,.05);"></div>
<div class="t" style="top:1216.25px;height:40px;line-height:40px;font-size:22px;color:#1b2230;font-weight:700;transform:scaleX(0.9024);transform-origin:left center;left:461px;">Dienstplan</div>
<div class="t" style="top:1281.26px;height:40px;line-height:40px;font-size:22.4px;color:#262c37;transform:scaleX(0.9572);transform-origin:left center;left:461px;">Von:</div>
<div class="t" style="top:1281.26px;height:40px;line-height:40px;font-size:22.4px;color:#262c37;transform:scaleX(0.9538);transform-origin:left center;left:581px;">Bis:</div>
<div class="t" style="top:1281.26px;height:40px;line-height:40px;font-size:22.4px;color:#262c37;transform:scaleX(0.9451);transform-origin:left center;left:701px;">Anzahl:</div>
<div class="b" style="left:461px;top:1341.7px;width:356px;height:31.6px;background:#e7e6e6;border-radius:4px;"></div>
<div class="t" style="top:1337.20px;height:40px;line-height:40px;font-size:17.6px;color:#2a2f38;font-weight:700;transform:scaleX(0.9725);transform-origin:center center;left:439.00px;width:400px;text-align:center;">Support</div>
<div class="t" style="top:1397.66px;height:40px;line-height:40px;font-size:22.4px;color:#262c37;transform:scaleX(0.9638);transform-origin:center center;left:460.50px;width:120px;text-align:center;">06:00</div>
<div class="t" style="top:1397.66px;height:40px;line-height:40px;font-size:22.4px;color:#262c37;transform:scaleX(0.9509);transform-origin:center center;left:580.80px;width:120px;text-align:center;">15:00</div>
<div class="t" style="top:1396.06px;height:40px;line-height:40px;font-size:22.4px;color:#262c37;transform:scaleX(0.9509);transform-origin:center center;left:734.20px;width:120px;text-align:center;">09:00</div>
<div class="b card" style="left:869px;top:1195.5px;width:504.300px;height:260px;box-shadow:0 0 18px 3px rgba(40,42,48,.05);"></div>
<div class="t" style="top:1216.25px;height:40px;line-height:40px;font-size:22px;color:#1b2230;font-weight:700;transform:scaleX(0.8868);transform-origin:left center;left:893.3px;">In &amp; Out</div>
<div class="t" style="top:1287.44px;height:40px;line-height:40px;font-size:21px;color:#5a6271;-webkit-text-stroke:0.5px #5a6271;transform:scaleX(0.9387);transform-origin:left center;left:894.3px;">Kommen</div>
<div class="t" style="top:1287.44px;height:40px;line-height:40px;font-size:21px;color:#5a6271;-webkit-text-stroke:0.5px #5a6271;transform:scaleX(0.8945);transform-origin:left center;left:1044.3px;">Gehen</div>
<div class="t" style="top:1287.44px;height:40px;line-height:40px;font-size:21px;color:#5a6271;-webkit-text-stroke:0.5px #5a6271;transform:scaleX(0.9263);transform-origin:left center;left:1195px;">Saldo</div>
<div class="b inp" style="left:893.3px;top:1327.7px;width:137.400px;height:51.600px;border:1.7px solid #7f868f;"></div>
<div class="b inp" style="left:1043.300px;top:1327.7px;width:137.400px;height:51.600px;border:1.7px solid #7f868f;"></div>
<div class="t" style="top:1334.36px;height:40px;line-height:40px;font-size:22.4px;color:#262c37;transform:scaleX(0.9509);transform-origin:left center;left:907.3px;">07:30</div>
<div class="t" style="top:1334.36px;height:40px;line-height:40px;font-size:22.4px;color:#262c37;transform:scaleX(0.9473);transform-origin:left center;left:1057.7px;">12:00</div>
<div class="t" style="top:1333.56px;height:40px;line-height:40px;font-size:22.4px;color:#262c37;transform:scaleX(0.9509);transform-origin:left center;left:1199.3px;">04:30</div>
<div class="b inp" style="left:893.3px;top:1392.3px;width:137.400px;height:51.600px;border:1.7px solid #7f868f;"></div>
<div class="b inp" style="left:1043.300px;top:1392.3px;width:137.400px;height:51.600px;border:1.7px solid #7f868f;"></div>
<div class="t" style="top:1398.96px;height:40px;line-height:40px;font-size:22.4px;color:#262c37;transform:scaleX(0.9509);transform-origin:left center;left:907.3px;">13:00</div>
<div class="t" style="top:1398.96px;height:40px;line-height:40px;font-size:22.4px;color:#262c37;transform:scaleX(0.9473);transform-origin:left center;left:1057.7px;">17:30</div>
<div class="t" style="top:1398.16px;height:40px;line-height:40px;font-size:22.4px;color:#262c37;transform:scaleX(0.9509);transform-origin:left center;left:1199.3px;">04:30</div>
<div class="b card" style="left:1396.7px;top:1195.5px;width:590.600px;height:260px;box-shadow:0 0 18px 3px rgba(40,42,48,.05);"></div>
<div class="t" style="top:1216.25px;height:40px;line-height:40px;font-size:22px;color:#1b2230;font-weight:700;transform:scaleX(0.9209);transform-origin:left center;left:1419.6px;">Reglementierte Arbeitszeit</div>
<div class="t" style="top:1281.26px;height:40px;line-height:40px;font-size:22.4px;color:#262c37;transform:scaleX(0.9641);transform-origin:left center;left:1420.7px;">Von:</div>
<div class="t" style="top:1281.26px;height:40px;line-height:40px;font-size:22.4px;color:#262c37;transform:scaleX(0.9538);transform-origin:left center;left:1518.3px;">Bis:</div>
<div class="t" style="top:1281.26px;height:40px;line-height:40px;font-size:22.4px;color:#262c37;transform:scaleX(0.9451);transform-origin:left center;left:1616px;">Anzahl:</div>
<div class="t" style="top:1281.26px;height:40px;line-height:40px;font-size:22.4px;color:#262c37;transform:scaleX(0.9406);transform-origin:left center;left:1713.3px;">Abzug:</div>
<div class="t" style="top:1338.06px;height:40px;line-height:40px;font-size:22.4px;color:#262c37;transform:scaleX(0.9509);transform-origin:left center;left:1420.7px;">07:30</div>
<div class="t" style="top:1338.06px;height:40px;line-height:40px;font-size:22.4px;color:#262c37;transform:scaleX(0.9509);transform-origin:left center;left:1518.3px;">09:00</div>
<div class="t" style="top:1338.06px;height:40px;line-height:40px;font-size:22.4px;color:#262c37;transform:scaleX(0.9509);transform-origin:left center;left:1616px;">01:30</div>
<div class="t" style="top:1397.06px;height:40px;line-height:40px;font-size:22.4px;color:#262c37;transform:scaleX(0.9546);transform-origin:left center;left:1420.7px;">09:00</div>
<div class="t" style="top:1397.06px;height:40px;line-height:40px;font-size:22.4px;color:#262c37;transform:scaleX(0.9546);transform-origin:left center;left:1518.3px;">09:15</div>
<div class="t" style="top:1397.06px;height:40px;line-height:40px;font-size:22.4px;color:#262c37;transform:scaleX(0.9546);transform-origin:left center;left:1713.3px;">00:15</div>
<div class="b" style="left:1811px;top:1403.300px;width:26px;height:26px;border:2px solid #777c84;border-radius:5px;background:#fff"></div>
<svg class="b" style="left:1861px;top:1402.7px;" width="28" height="28" viewBox="0 0 28 28"><circle cx="14" cy="14" r="12.200" fill="none" stroke="#e6cfdf" stroke-width="1.800"/><circle cx="13.800" cy="8.800" r="1.600" fill="#e6cfdf"/><path d="M11.500 12.300h3.700v7.200h1.800v1.500h-5.800v-1.500h2v-5.700h-1.700z" fill="#e6cfdf"/></svg>
<svg class="b" style="left:2219.4px;top:19.7px" width="50" height="50" viewBox="0 0 54 54"><defs><clipPath id="av11"><circle cx="27" cy="27" r="26.500"/></clipPath></defs><g clip-path="url(#av11)"><g transform="translate(27 31) scale(1.17) translate(-27 -31)"><rect width="54" height="54" fill="#c78a55"/><rect x="8" y="0" width="13" height="54" fill="#f3e4d4"/><rect x="0" y="0" width="8" height="54" fill="#b9733c"/><path d="M8 54c2-9 9-12 20-12s18 3 20 12z" fill="#3a3d45"/><path d="M22 41l6 10 7-10z" fill="#f4f4f4"/><ellipse cx="29" cy="23" rx="10.500" ry="13" fill="#d9a27e"/><path d="M18.500 20c-1-9 4-13.500 10.500-13.500s12 4 10.500 13.500c-1-4-3-6.500-4-7-3 1-9 1-13 0-2 1-3 3-4 7z" fill="#3b2a22"/><path d="M19 25c1 9 5 13 10 13s9-4 10-13c-2 4-4 5-10 5s-8-1-10-5z" fill="#5a3d2e"/><path d="M19.500 20.500h8v4.500h-8zM30.500 20.500h8v4.500h-8zM27.500 22h3" fill="none" stroke="#1d1a1a" stroke-width="1.400"/><path d="M25 31.500c2 1.600 6 1.600 8 0" fill="none" stroke="#fff" stroke-width="1.500"/></g></g><circle cx="27" cy="27" r="25.92" fill="none" stroke="#8b8e94" stroke-width="2.16"/></svg>
<div class="b" style="left:2280px;top:90px;width:12px;height:1350px;background:#f1f2f3;"></div>
<div class="b" style="left:2280px;top:90px;width:12px;height:706px;background:#cacaca;"></div>
<div class="b" style="left:2292px;top:0px;width:12px;height:1440px;background:#f0f0f0;"></div>
<div class="b" style="left:2292px;top:0px;width:12px;height:1413.3px;background:#cbcbcb;"></div>
<div class="b" style="left:2232.3px;top:1205.600px;width:59.700px;height:60.400px;background:#7d1c62;border-radius:11px 0 0 11px;box-shadow:-4px 6px 18px rgba(30,20,40,.18)"></div>
<svg class="b" style="left:2244px;top:1219px;" width="34" height="34" viewBox="0 0 34 34"><rect x="3.600" y="3.600" width="27.600" height="27.600" rx="1.500" fill="none" stroke="#fff" stroke-width="2.800"/><circle cx="17.300" cy="11.200" r="2.300" fill="#fff"/><path d="M13.400 14.800h6v8.800h2v2.400h-8.400v-2.400h2.300v-6.400h-1.900z" fill="#fff"/></svg>
</body></html>
